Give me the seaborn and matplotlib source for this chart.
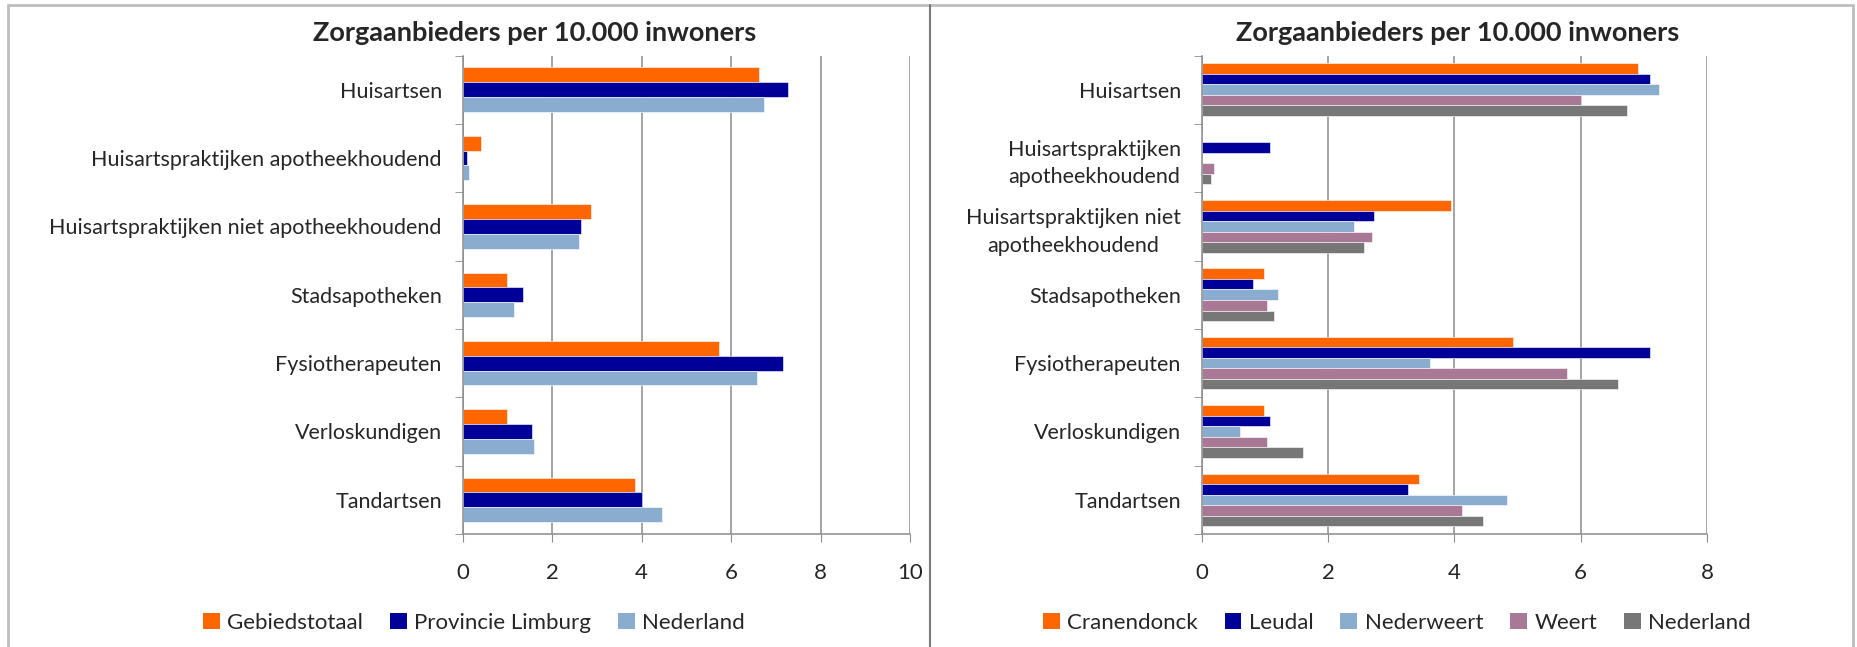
import numpy as np
import pandas as pd
import seaborn as sns
import matplotlib.pyplot as plt
from matplotlib.patches import Patch
from matplotlib.lines import Line2D

# Categories (top to bottom)
categories = ['Huisartsen', 'Huisartspraktijken apotheekhoudend',
              'Huisartspraktijken niet apotheekhoudend', 'Stadsapotheken',
              'Fysiotherapeuten', 'Verloskundigen', 'Tandartsen']
labels_right = ['Huisartsen', 'Huisartspraktijken\napotheekhoudend',
                'Huisartspraktijken niet\napotheekhoudend', 'Stadsapotheken',
                'Fysiotherapeuten', 'Verloskundigen', 'Tandartsen']

# Left chart: per 10.000 inwoners
gebiedstotaal = [6.63, 0.42, 2.87, 1.00, 5.73, 1.00, 3.85]
provincie_limburg = [7.27, 0.09, 2.65, 1.35, 7.17, 1.55, 4.01]
nederland_links = [6.73, 0.15, 2.59, 1.15, 6.57, 1.59, 4.46]

# Right chart: per gemeente
cranendonck = [6.90, 0.0, 3.94, 0.98, 4.93, 0.98, 3.44]
leudal = [7.09, 1.08, 2.72, 0.82, 7.09, 1.08, 3.27]
nederweert = [7.24, 0.0, 2.41, 1.21, 3.62, 0.60, 4.83]
weert = [6.00, 0.20, 2.69, 1.03, 5.79, 1.03, 4.12]
nederland_rechts = [6.73, 0.15, 2.57, 1.15, 6.59, 1.60, 4.45]

names_left = ['Gebiedstotaal', 'Provincie Limburg', 'Nederland']
names_right = ['Cranendonck', 'Leudal', 'Nederweert', 'Weert', 'Nederland']
colors_left = ['#FF6600', '#000099', '#8AACCF']
colors_right = ['#FF6600', '#000099', '#8AACCF', '#A97895', '#777777']

title = 'Zorgaanbieders per 10.000 inwoners'

sns.set_style('white')
plt.rcParams['font.family'] = ['Lato', 'DejaVu Sans']

W, H = 1857, 647
fig = plt.figure(figsize=(W / 100, H / 100), dpi=100)


def px_axes(x0, x1, ytop, ybot):
    return fig.add_axes([x0 / W, 1 - ybot / H, (x1 - x0) / W, (ybot - ytop) / H])


def draw_panel(ax, series, names, colors, ylabels, xmax, width):
    df = pd.DataFrame({
        'categorie': np.tile(categories, len(series)),
        'waarde': np.concatenate(series),
        'reeks': np.repeat(names, len(categories)),
    })
    sns.barplot(data=df, y='categorie', x='waarde', hue='reeks', order=categories,
                hue_order=names, palette=dict(zip(names, colors)), width=width,
                orient='h', saturation=1, legend=False, ax=ax,
                edgecolor='white', linewidth=0.4)
    ax.set_xlim(0, xmax)
    ax.set_ylim(6.5, -0.5)
    ax.set_xticks(np.arange(0, xmax + 1, 2))
    ax.set_yticks(range(len(categories)), ylabels, multialignment='center', linespacing=1.45)
    ax.set_yticks(np.arange(-0.5, 7, 1), minor=True)
    ax.set_xlabel('')
    ax.set_ylabel('')
    ax.grid(axis='x', color='#8C8C8C', linewidth=1.1)
    ax.set_axisbelow(True)
    for s in ['top', 'right']:
        ax.spines[s].set_visible(False)
    for s in ['left', 'bottom']:
        ax.spines[s].set_color('#8C8C8C')
        ax.spines[s].set_linewidth(1.1)
    ax.tick_params(axis='y', which='major', length=0, pad=15, labelsize=15.5)
    ax.tick_params(axis='y', which='minor', length=6, color='#8C8C8C', direction='out', left=True)
    ax.tick_params(axis='x', length=6, color='#8C8C8C', direction='out', bottom=True,
                   pad=15, labelsize=16)


ax1 = px_axes(462.7, 910, 55.5, 534)
draw_panel(ax1, [gebiedstotaal, provincie_limburg, nederland_links], names_left,
           colors_left, categories, 10, 0.65)

ax2 = px_axes(1201.7, 1707, 55.5, 534)
draw_panel(ax2, [cranendonck, leudal, nederweert, weert, nederland_rechts], names_right,
           colors_right, labels_right, 8, 0.77)

fig.text(535 / W, 1 - 33 / H, title, ha='center', va='center', fontsize=19.5, fontweight='bold')
fig.text(1458 / W, 1 - 33 / H, title, ha='center', va='center', fontsize=19.5, fontweight='bold')

for names, colors, xc in [(names_left, colors_left, 474), (names_right, colors_right, 1397)]:
    handles = [Patch(facecolor=c, edgecolor='none') for c in colors]
    fig.legend(handles, names, loc='center', bbox_to_anchor=(xc / W, 1 - 623 / H),
               ncol=len(names), frameon=False, fontsize=16, handlelength=0.75,
               handleheight=0.75, handletextpad=0.35, columnspacing=1.2)

# panel borders
light = '#BEBEBE'
fig.add_artist(Line2D([8 / W, 1853 / W], [1 - 5 / H, 1 - 5 / H], color=light, lw=2))
fig.add_artist(Line2D([8 / W, 8 / W], [0, 1 - 5 / H], color=light, lw=2))
fig.add_artist(Line2D([1853 / W, 1853 / W], [0, 1 - 5 / H], color=light, lw=2))
fig.add_artist(Line2D([930 / W, 930 / W], [0, 1 - 5 / H], color='#7A7A7A', lw=1.5))

fig.savefig('out.png', dpi=100)
